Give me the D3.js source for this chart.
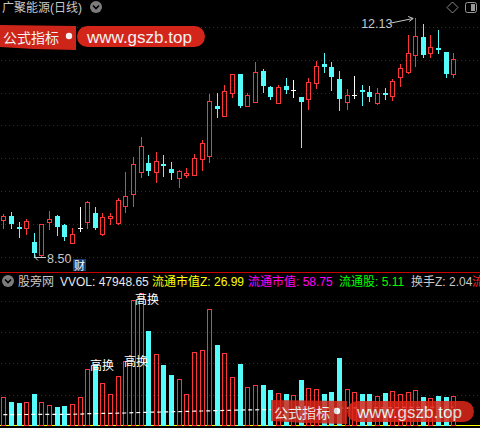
<!DOCTYPE html>
<html><head><meta charset="utf-8">
<script src="https://cdn.jsdelivr.net/npm/d3@7"></script>
<style>html,body{margin:0;padding:0;background:#000;overflow:hidden}svg{display:block}</style>
</head><body><svg id="c" width="480" height="428"></svg>
<script>
// ---- data ----
const days = d3.range(60).map(i => "D" + (i + 1));
const open = [9.06,9.12,8.95,8.94,8.72,8.52,9.03,9.12,8.98,8.71,
 8.94,9.02,9.17,8.84,9.09,9.01,9.27,9.46,9.79,9.92,
 9.79,9.91,9.83,9.70,9.74,9.75,9.99,10.04,10.80,10.65,
 11.00,11.28,10.79,10.86,11.33,11.08,10.84,11.10,11.04,10.93,
 10.90,11.15,11.44,11.39,11.21,10.85,10.97,11.04,11.01,10.84,
 10.99,10.95,11.23,11.31,11.57,11.85,11.60,11.68,11.62,11.28];
const close = [9.12,9.00,8.93,9.04,8.56,8.99,9.07,8.95,8.79,8.84,
 8.94,9.33,8.93,9.11,9.12,9.36,9.43,9.91,10.18,9.80,
 9.96,9.88,9.78,9.81,9.77,10.00,10.23,10.87,10.75,11.03,
 11.28,10.80,10.96,11.31,11.10,10.94,11.09,11.04,11.04,10.85,
 11.16,11.41,11.39,11.23,10.90,10.96,10.97,11.02,10.94,10.99,
 10.97,11.18,11.37,11.60,11.86,11.57,11.69,11.66,11.29,11.51];
const high = [9.15,9.18,9.02,9.07,8.86,9.00,9.19,9.13,8.99,8.93,
 9.25,9.34,9.25,9.16,9.16,9.39,9.79,10.02,10.32,10.05,
 10.10,10.05,9.94,9.82,9.85,10.06,10.28,10.98,11.00,11.11,
 11.29,11.29,10.99,11.46,11.36,11.10,11.12,11.22,11.19,10.93,
 11.22,11.48,11.61,11.46,11.33,11.05,11.25,11.12,11.10,11.07,
 11.07,11.21,11.44,11.88,12.13,12.05,11.88,11.95,11.62,11.60];
const low = [8.93,8.93,8.79,8.85,8.50,8.51,8.92,8.83,8.75,8.70,
 8.89,8.93,8.92,8.83,8.99,9.00,9.18,9.27,9.72,9.75,
 9.63,9.73,9.68,9.56,9.72,9.74,9.82,9.94,10.62,10.65,
 10.94,10.78,10.79,10.86,11.01,10.90,10.84,10.99,10.94,10.17,
 10.75,11.07,11.32,11.04,10.73,10.75,10.91,10.81,10.87,10.82,
 10.90,10.88,11.10,11.30,11.41,11.55,11.54,11.60,11.23,11.23];
const volume = [45800,37800,36300,37800,50600,37800,33100,29900,31500,34700,
 45800,90600,96900,68200,50600,79400,103300,200700,211900,151200,
 114500,96900,81000,74600,50600,117700,120900,186400,128900,116100,
 77800,98500,61800,65000,65000,57000,52200,50600,49000,73000,
 60200,58600,50600,53800,108100,58600,53800,50600,50600,47400,
 52200,55400,50600,53800,57000,45800,44200,47400,45800,47948.65];
const volMA = [18200,18200,18300,18300,18400,18400,18500,18500,18600,18700,
 18800,19600,19800,20000,20200,20400,20700,21200,21500,21900,
 22100,22400,22700,23000,23300,23600,23900,24200,24500,24800,
 25100,25400,25600,25800,26000,26200,26400,26600,26800,27000,
 27300,27600,27900,28200,28400,28600,28800,29000,29100,29200,
 29300,29400,29500,29600,29700,29800,29900,30000,30100,30200];
const priceTicks = [8.5, 9, 9.5, 10, 10.5, 11, 11.5, 12];
const volTicks = [50000, 100000, 150000, 200000];
const title = "广聚能源(日线)";
const headerLabels = ["股旁网", "VVOL: " + volume[volume.length - 1], "流通市值Z: 26.99", "流通市值: 58.75", "流通股: 5.11", "换手Z: 2.04", "流"];
const headerColors = ["#c8c8c8", "#e8e8e8", "#ffff00", "#ff00ff", "#00ff00", "#c8c8c8", "#ff2020"];
const headerX = [18, 60, 152, 248, 339, 411, 472];
const tagLabels = ["高换", "高换", "高换"];
const maxLabel = "12.13", minLabel = "8.50";

// ---- setup ----
const W = 480, H = 428;
const RED = "#ff3636", CYAN = "#54fcfc", WHITE = "#ffffff";
const FONT = "'Liberation Sans','Noto Sans CJK SC',sans-serif";
const svg = d3.select("#c");
svg.append("rect").attr("width", W).attr("height", H).attr("fill", "#000");

const x = d3.scalePoint().domain(days).range([3.3, 453.3]);
const yP = d3.scaleLinear().domain([8.5, 12]).range([256.5, 27]);
const yV = d3.scaleLinear().domain([0, 200000]).range([426, 300.5]);

// grids via axes
function gridAxis(scale, ticks) {
  const g = svg.append("g").attr("shape-rendering", "crispEdges")
    .call(d3.axisLeft(scale).tickValues(ticks).tickSize(-W).tickFormat(""));
  g.select(".domain").remove();
  g.selectAll(".tick").attr("transform", d => `translate(0,${Math.round(scale(d)) + 0.5})`);
  g.selectAll(".tick line").attr("stroke", "#9a0000").attr("stroke-dasharray", "1,3").attr("x1", 1).attr("y1", 0).attr("y2", 0);
}
gridAxis(yP, priceTicks);
gridAxis(yV, volTicks);

const data = days.map((d, i) => ({ d, o: open[i], c: close[i], h: high[i], l: low[i], v: volume[i], ma: volMA[i] }));

// candles
const cg = svg.append("g").attr("shape-rendering", "crispEdges");
data.forEach(k => {
  const cx = Math.round(x(k.d));
  const t = Math.round(yP(Math.max(k.o, k.c))), b = Math.round(yP(Math.min(k.o, k.c)));
  const yH = Math.round(yP(k.h)), yL = Math.round(yP(k.l));
  if (k.c > k.o) {
    if (yH < t) cg.append("line").attr("x1", cx + 0.5).attr("x2", cx + 0.5).attr("y1", yH).attr("y2", t).attr("stroke", RED);
    if (yL > b) cg.append("line").attr("x1", cx + 0.5).attr("x2", cx + 0.5).attr("y1", b + 1).attr("y2", yL + 1).attr("stroke", RED);
    cg.append("rect").attr("x", cx - 1.5).attr("y", t + 0.5).attr("width", 4).attr("height", Math.max(b - t, 1))
      .attr("fill", "none").attr("stroke", RED);
  } else if (k.c < k.o) {
    cg.append("line").attr("x1", cx + 0.5).attr("x2", cx + 0.5).attr("y1", yH).attr("y2", yL + 1).attr("stroke", CYAN);
    cg.append("rect").attr("x", cx - 2).attr("y", t).attr("width", 5).attr("height", Math.max(b - t, 2)).attr("fill", CYAN);
  } else {
    cg.append("line").attr("x1", cx + 0.5).attr("x2", cx + 0.5).attr("y1", yH).attr("y2", yL + 1).attr("stroke", WHITE);
    cg.append("line").attr("x1", cx - 2).attr("x2", cx + 3).attr("y1", t + 0.5).attr("y2", t + 0.5).attr("stroke", WHITE);
  }
});

// max / min labels
const iMax = d3.maxIndex(high), iMin = d3.minIndex(low);
const mx = x(days[iMax]) - 2, my = yP(high[iMax]);
const ann = svg.append("g").attr("stroke", "#c8c8c8").attr("fill", "none");
ann.append("path").attr("d", `M${mx - 22},${my + 4.5}L${mx},${my}M${mx - 5},${my - 2}L${mx},${my}L${mx - 4},${my + 3}`);
svg.append("text").attr("x", mx - 52).attr("y", my + 9.5).attr("fill", "#c8c8c8").attr("font-family", FONT).attr("font-size", 12.5).text(maxLabel);
const nx = Math.round(x(days[iMin])) + 1, ny = Math.round(yP(low[iMin])) + 0.5;
ann.append("path").attr("d", `M${nx},${ny}L${nx + 11},${ny}M${nx},${ny}L${nx},${ny - 3}M${nx},${ny}L${nx + 3},${ny}M${nx},${ny}L${nx + 3},${ny + 3}`);
svg.append("text").attr("x", nx + 12).attr("y", ny + 5).attr("fill", "#c8c8c8").attr("font-family", FONT).attr("font-size", 12.5).text(minLabel);
// 财 box
svg.append("rect").attr("x", 73).attr("y", 259).attr("width", 13).attr("height", 12).attr("fill", "#1e3c6e");
svg.append("text").attr("x", 74).attr("y", 269.5).attr("fill", "#fff").attr("font-family", FONT).attr("font-size", 11).text("财");

// title
svg.append("text").attr("x", 2).attr("y", 12).attr("fill", "#c8c8c8").attr("font-family", FONT).attr("font-size", 12).text(title);
function chevCircle(cx, cy) {
  svg.append("circle").attr("cx", cx).attr("cy", cy).attr("r", 6).attr("fill", "#7c7c7c");
  svg.append("path").attr("d", `M${cx - 3},${cy - 1.5}L${cx},${cy + 1.5}L${cx + 3},${cy - 1.5}`).attr("stroke", "#000").attr("stroke-width", 1.6).attr("fill", "none");
}
chevCircle(96, 7);
// top-right icons
svg.append("path").attr("d", "M452.5,2L458,7.5L452.5,13L447,7.5Z").attr("fill", "none").attr("stroke", "#8a8a8a");
svg.append("rect").attr("x", 465.5).attr("y", 2.5).attr("width", 11).attr("height", 10).attr("rx", 2).attr("fill", "none").attr("stroke", "#9a9a9a");
svg.append("rect").attr("x", 471).attr("y", 4).attr("width", 4).attr("height", 7).attr("fill", "#9a9a9a");

// separator + header
svg.append("line").attr("x1", 0).attr("x2", W).attr("y1", 272.5).attr("y2", 272.5).attr("stroke", "#c80000");
chevCircle(8, 281);
headerLabels.forEach((s, i) => {
  svg.append("text").attr("x", headerX[i]).attr("y", 286).attr("fill", headerColors[i]).attr("font-family", FONT).attr("font-size", 12).text(s);
});

// volume
svg.append("line").attr("x1", 0).attr("x2", W).attr("y1", 425.5).attr("y2", 425.5).attr("stroke", "#ffff00");
const vg = svg.append("g").attr("shape-rendering", "crispEdges");
data.forEach(k => {
  const cx = Math.round(x(k.d));
  const t = Math.round(yV(k.v)), b = Math.round(yV(0));
  if (k.c >= k.o) {
    vg.append("rect").attr("x", cx - 1.5).attr("y", t + 0.5).attr("width", 4).attr("height", b - t - 1).attr("fill", "none").attr("stroke", RED);
  } else {
    vg.append("rect").attr("x", cx - 2).attr("y", t).attr("width", 5).attr("height", b - t).attr("fill", CYAN);
  }
});
svg.append("path").datum(data)
  .attr("d", d3.line().x(k => x(k.d)).y(k => yV(k.ma)))
  .attr("fill", "none").attr("stroke", "#fff").attr("stroke-width", 1.2).attr("stroke-dasharray", "4,3");

// labels in volume panel
const tagPos = [[90, 370], [124, 366], [135, 304]];
tagPos.forEach((p, i) => svg.append("text").attr("x", p[0]).attr("y", p[1]).attr("fill", "#fff").attr("font-family", FONT).attr("font-size", 12).text(tagLabels[i]));

// watermarks
function watermark(g, bx, by, bw, bh, px, pw, dotx) {
  g.append("path").attr("d", `M${bx},${by}L${bx + bw},${by + 1}L${bx + bw},${by + bh}L${bx + bw * 0.45},${by + bh - 1}L${bx},${by + bh - 3}Z`).attr("fill", "#d8281c");
  g.append("text").attr("x", bx + 3).attr("y", by + 18).attr("fill", "#fff").attr("font-family", FONT).attr("font-size", 14).text("公式指标");
  g.append("circle").attr("cx", dotx).attr("cy", by + 11).attr("r", 3.2).attr("fill", "#fff");
  g.append("rect").attr("x", px).attr("y", by + 1).attr("width", pw).attr("height", 21).attr("rx", 10.5).attr("fill", "#e0281c");
  g.append("text").attr("x", px + 10).attr("y", by + 18).attr("fill", "#fff").attr("font-family", FONT).attr("font-size", 17).text("www.gszb.top");
}
watermark(svg.append("g").attr("opacity", 0.95), 0, 25, 76, 25, 77, 128, 69);
watermark(svg.append("g").attr("opacity", 0.85), 271, 400, 76, 24, 347, 127, 337);
</script></body></html>
